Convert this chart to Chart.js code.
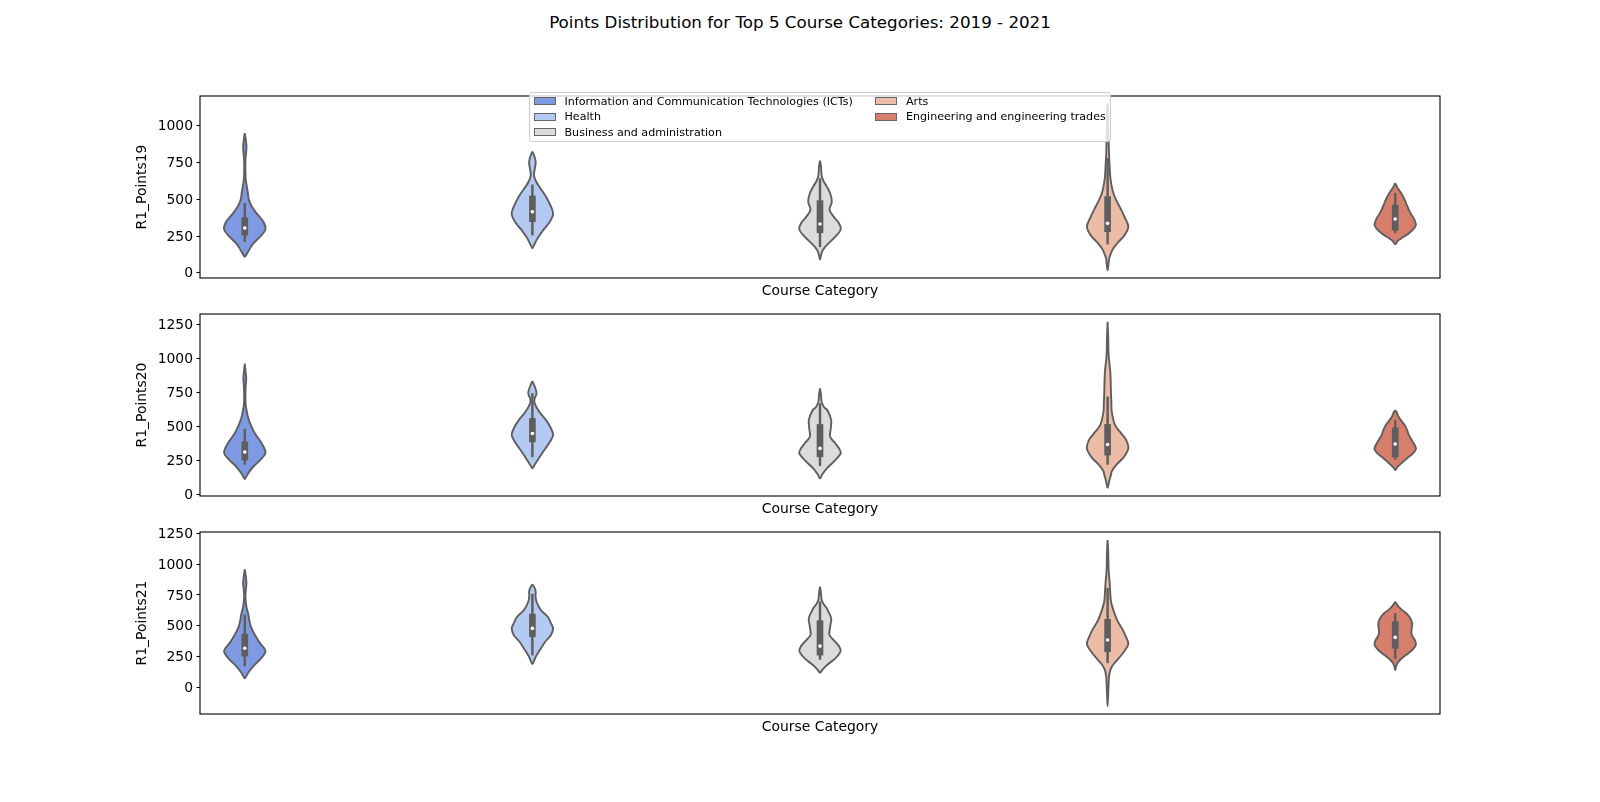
<!DOCTYPE html>
<html>
<head>
<meta charset="utf-8">
<title>Points Distribution for Top 5 Course Categories</title>
<script src="https://cdn.jsdelivr.net/npm/chart.js@4.4.1/dist/chart.umd.min.js"></script>
<style>
    html, body { margin: 0; padding: 0; background: #fff; }
    body { width: 1600px; height: 802px; position: relative; overflow: hidden; font-family: "DejaVu Sans", sans-serif; }
    .row-canvas { position: absolute; left: 0; }
    #title { position: absolute; left: 0; top: 12px; width: 1600px; text-align: center; font-size: 16.7px; line-height: 20px; color: #000; }
    #legend { position: absolute; left: 529px; top: 92px; width: 582px; height: 50px; box-sizing: border-box; border: 1px solid #cccccc; border-radius: 3px; background: rgba(255, 255, 255, 0.8); z-index: 5; }
    .legend-item { position: absolute; height: 13px; font-size: 11.1px; line-height: 13px; white-space: nowrap; color: #000; }
    .legend-patch { position: absolute; left: 0; top: 2.5px; width: 22px; height: 8px; box-sizing: border-box; border: 1px solid #666666; }
    .legend-text { position: absolute; left: 31px; top: 0; }
</style>
</head>
<body>
<div id="title">Points Distribution for Top 5 Course Categories: 2019 - 2021</div>
<div id="legend"></div>
<canvas id="chart-19" class="row-canvas" width="1600" height="234" style="top: 82px"></canvas>
<canvas id="chart-20" class="row-canvas" width="1600" height="234" style="top: 300px"></canvas>
<canvas id="chart-21" class="row-canvas" width="1600" height="234" style="top: 518px"></canvas>
<script>
const categories = [
    'Information and Communication Technologies (ICTs)',
    'Health',
    'Business and administration',
    'Arts',
    'Engineering and engineering trades'
];
const categoryColors = ['#7f9ae2', '#b4caf3', '#dcdcdc', '#ecbca7', '#d57f6c'];
const yLabels = ['R1_Points19', 'R1_Points20', 'R1_Points21'];

const yLimits19 = [-35, 1200];
const yLimits20 = [-12, 1326];
const yLimits21 = [-216, 1261];
const yTicks19 = [0, 250, 500, 750, 1000];
const yTicks20 = [0, 250, 500, 750, 1000, 1250];
const yTicks21 = [0, 250, 500, 750, 1000, 1250];

// violin outlines, top to bottom: [points, relative half width]
const shapes19 = [
    [[948, 0], [910, 0.04], [860, 0.08], [810, 0.06], [760, 0.03], [690, 0.03], [630, 0.05], [585, 0.1], [540, 0.15], [495, 0.2], [450, 0.34], [404, 0.57], [347, 0.9], [295, 1], [245, 0.74], [200, 0.41], [154, 0.2], [125, 0.08], [109, 0]],
    [[823, 0], [790, 0.1], [750, 0.16], [710, 0.12], [660, 0.08], [620, 0.18], [585, 0.33], [517, 0.66], [449, 0.9], [399, 1], [336, 0.79], [290, 0.52], [234, 0.25], [188, 0.08], [166, 0]],
    [[762, 0], [720, 0.05], [660, 0.08], [620, 0.18], [585, 0.33], [540, 0.49], [483, 0.57], [427, 0.46], [381, 0.66], [340, 0.9], [295, 1], [245, 0.74], [200, 0.41], [154, 0.13], [115, 0.04], [91, 0]],
    [[1152, 0], [1080, 0.03], [1000, 0.03], [900, 0.05], [800, 0.07], [721, 0.1], [650, 0.13], [585, 0.2], [540, 0.28], [495, 0.41], [427, 0.66], [370, 0.85], [313, 1], [256, 0.82], [200, 0.46], [160, 0.25], [132, 0.16], [100, 0.08], [70, 0.05], [40, 0.03], [18, 0]],
    [[608, 0], [585, 0.08], [563, 0.18], [530, 0.33], [495, 0.46], [460, 0.56], [427, 0.66], [395, 0.78], [370, 0.9], [340, 0.98], [324, 1], [300, 0.9], [279, 0.74], [260, 0.58], [245, 0.41], [230, 0.25], [218, 0.13], [195, 0]]
];
const shapes20 = [
    [[962, 0], [900, 0.04], [855, 0.07], [790, 0.04], [705, 0.03], [650, 0.05], [607, 0.1], [570, 0.15], [533, 0.23], [480, 0.38], [436, 0.54], [375, 0.82], [306, 1], [252, 0.74], [203, 0.41], [154, 0.16], [130, 0.07], [112, 0]],
    [[832, 0], [790, 0.12], [742, 0.2], [700, 0.1], [669, 0.11], [607, 0.33], [546, 0.66], [485, 0.9], [436, 1], [400, 0.9], [362, 0.74], [301, 0.46], [240, 0.2], [210, 0.08], [191, 0]],
    [[779, 0], [730, 0.05], [680, 0.08], [640, 0.2], [619, 0.36], [546, 0.54], [485, 0.52], [423, 0.49], [375, 0.74], [330, 0.95], [301, 1], [252, 0.74], [191, 0.33], [150, 0.12], [118, 0]],
    [[1268, 0], [1150, 0.03], [1023, 0.05], [901, 0.13], [820, 0.15], [754, 0.16], [680, 0.18], [607, 0.2], [509, 0.36], [448, 0.66], [399, 0.9], [338, 1], [276, 0.79], [215, 0.41], [170, 0.2], [142, 0.16], [100, 0.08], [70, 0.04], [48, 0]],
    [[619, 0], [600, 0.08], [570, 0.16], [540, 0.3], [509, 0.46], [470, 0.58], [436, 0.66], [386, 0.85], [350, 0.98], [333, 1], [300, 0.85], [276, 0.66], [250, 0.45], [228, 0.3], [200, 0.1], [179, 0]]
];
const shapes21 = [
    [[958, 0], [900, 0.05], [844, 0.08], [790, 0.05], [735, 0.03], [654, 0.08], [600, 0.16], [519, 0.25], [470, 0.35], [425, 0.49], [357, 0.74], [297, 1], [235, 0.79], [181, 0.46], [127, 0.2], [95, 0.08], [73, 0]],
    [[836, 0], [810, 0.1], [776, 0.16], [740, 0.15], [695, 0.2], [627, 0.41], [573, 0.74], [519, 0.9], [479, 1], [425, 0.9], [370, 0.62], [303, 0.36], [248, 0.16], [215, 0.08], [189, 0]],
    [[817, 0], [760, 0.05], [709, 0.08], [670, 0.2], [641, 0.33], [560, 0.54], [492, 0.49], [425, 0.46], [370, 0.74], [330, 0.93], [295, 1], [235, 0.74], [190, 0.4], [167, 0.25], [140, 0.1], [119, 0]],
    [[1196, 0], [1100, 0.03], [952, 0.05], [850, 0.1], [763, 0.13], [700, 0.16], [641, 0.25], [546, 0.46], [465, 0.74], [406, 0.9], [351, 1], [289, 0.79], [222, 0.46], [180, 0.25], [140, 0.13], [90, 0.07], [32, 0.05], [-50, 0.03], [-152, 0]],
    [[695, 0], [675, 0.08], [655, 0.16], [625, 0.35], [600, 0.55], [573, 0.68], [546, 0.77], [515, 0.82], [480, 0.8], [445, 0.78], [415, 0.83], [384, 0.95], [350, 1], [325, 0.93], [303, 0.82], [275, 0.62], [248, 0.41], [220, 0.22], [195, 0.1], [165, 0.03], [140, 0]]
];

// inner box: [whisker low, q1, median, q3, whisker high]
const boxes19 = [[211, 256, 304, 374, 472], [256, 347, 415, 522, 597], [177, 272, 331, 490, 640], [195, 279, 336, 517, 778], [272, 290, 365, 460, 540]];
const boxes20 = [[220, 252, 311, 386, 480], [276, 386, 448, 558, 742], [210, 276, 338, 514, 669], [220, 289, 367, 514, 717], [259, 276, 370, 489, 546]];
const boxes21 = [[173, 254, 317, 433, 587], [262, 411, 479, 595, 757], [227, 262, 335, 541, 695], [200, 289, 384, 552, 804], [235, 317, 406, 532, 600]];

const FONT = '"DejaVu Sans", sans-serif';
const OUTLINE = '#5e5e5e';
const HALF_WIDTH = 0.072;   // max half width of a violin, in category units
const X_MIN = -0.1557;
const X_MAX = 4.1557;

// fills each violin outline before the outlines are stroked
const violinFill = {
    id: 'violinFill',
    beforeDatasetsDraw(chart) {
        const { ctx, chartArea } = chart;
        chart.data.datasets.forEach((ds, i) => {
            if (!ds.violin) return;
            const line = chart.getDatasetMeta(i).dataset;
            if (!line) return;
            line.updateControlPoints(chartArea, 'x');
            ctx.save();
            ctx.beginPath();
            line.path(ctx);
            ctx.closePath();
            ctx.fillStyle = ds.backgroundColor;
            ctx.fill();
            ctx.restore();
        });
    }
};

// axes frame like matplotlib spines
const axesFrame = {
    id: 'axesFrame',
    afterDraw(chart) {
        const { ctx, chartArea } = chart;
        ctx.save();
        ctx.strokeStyle = '#000';
        ctx.lineWidth = 1.1;
        ctx.strokeRect(chartArea.left, chartArea.top, chartArea.right - chartArea.left, chartArea.bottom - chartArea.top);
        ctx.restore();
    }
};

const buildDatasets = (shapes, boxes) => {
    const datasets = [];
    shapes.forEach((shape, i) => {
        const left = shape.map(([v, w]) => ({ x: i - w * HALF_WIDTH, y: v }));
        const right = shape.slice().reverse().map(([v, w]) => ({ x: i + w * HALF_WIDTH, y: v }));
        datasets.push({
            type: 'scatter',
            label: categories[i],
            violin: true,
            data: left.concat(right.slice(1)),
            showLine: true,
            fill: false,
            tension: 0.35,
            borderColor: OUTLINE,
            borderWidth: 1.9,
            backgroundColor: categoryColors[i],
            pointRadius: 0,
            order: 3
        });
    });
    datasets.push({
        type: 'bar',
        label: 'whiskers',
        data: boxes.map((b, i) => ({ x: i, y: [b[0], b[4]] })),
        backgroundColor: OUTLINE,
        barThickness: 1.8,
        grouped: false,
        order: 2
    });
    datasets.push({
        type: 'bar',
        label: 'quartiles',
        data: boxes.map((b, i) => ({ x: i, y: [b[1], b[3]] })),
        backgroundColor: OUTLINE,
        barThickness: 6,
        grouped: false,
        order: 1
    });
    datasets.push({
        type: 'scatter',
        label: 'median',
        data: boxes.map((b, i) => ({ x: i, y: b[2] })),
        pointRadius: 1.8,
        pointBackgroundColor: '#ffffff',
        pointBorderWidth: 0,
        order: 0
    });
    return datasets;
};

const renderViolinChart = (canvasId, yLabel, shapes, boxes, limits, ticks) => {
    const ctx = document.getElementById(canvasId);

    new Chart(ctx, {
        type: 'scatter',
        data: { datasets: buildDatasets(shapes, boxes) },
        plugins: [violinFill, axesFrame],
        options: {
            responsive: false,
            animation: false,
            events: [],
            layout: { padding: { top: 14, right: 160, bottom: 0, left: 0 } },
            plugins: {
                legend: { display: false },
                tooltip: { enabled: false }
            },
            scales: {
                x: {
                    type: 'linear',
                    min: X_MIN,
                    max: X_MAX,
                    offset: false,
                    ticks: { display: false },
                    grid: { display: false },
                    border: { display: false },
                    afterFit: (scale) => { scale.height = 38; },
                    title: {
                        display: true,
                        text: 'Course Category',
                        color: '#000',
                        font: { family: FONT, size: 13.9 },
                        padding: { top: 0, bottom: 15.9 }
                    }
                },
                y: {
                    min: limits[0],
                    max: limits[1],
                    afterBuildTicks: (scale) => { scale.ticks = ticks.map(value => ({ value })); },
                    afterFit: (scale) => { scale.width = 200; },
                    ticks: {
                        color: '#000',
                        font: { family: FONT, size: 13.9 },
                        padding: 3.5,
                        labelOffset: 1,
                        callback: (value) => String(value)
                    },
                    grid: {
                        drawOnChartArea: false,
                        drawTicks: true,
                        tickLength: 3.5,
                        tickColor: '#000',
                        tickWidth: 1.1
                    },
                    border: { display: false },
                    title: {
                        display: true,
                        text: yLabel,
                        color: '#000',
                        font: { family: FONT, size: 13.9 },
                        padding: { top: 134.5, bottom: 0 }
                    }
                }
            }
        }
    });
};

const renderLegend = () => {
    const legend = document.getElementById('legend');
    categories.forEach((name, i) => {
        const col = Math.floor(i / 3);
        const row = i % 3;
        const item = document.createElement('div');
        item.className = 'legend-item';
        item.style.left = (col === 0 ? 3.5 : 345) + 'px';
        item.style.top = (1.5 + row * 15.6) + 'px';
        item.innerHTML = `<span class="legend-patch" style="background:${categoryColors[i]}"></span><span class="legend-text">${name}</span>`;
        legend.appendChild(item);
    });
};

renderLegend();
renderViolinChart('chart-19', yLabels[0], shapes19, boxes19, yLimits19, yTicks19);
renderViolinChart('chart-20', yLabels[1], shapes20, boxes20, yLimits20, yTicks20);
renderViolinChart('chart-21', yLabels[2], shapes21, boxes21, yLimits21, yTicks21);
</script>
</body>
</html>
